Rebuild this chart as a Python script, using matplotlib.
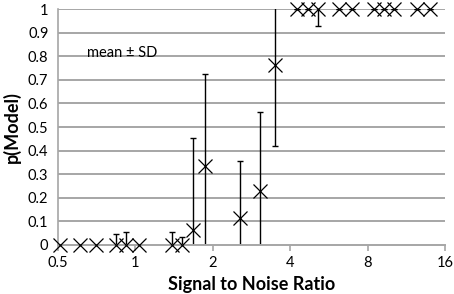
import numpy as np
import matplotlib.pyplot as plt
from matplotlib.ticker import FixedLocator, NullLocator

# signal to noise ratio, mean p(Model), error (SD)
snr = [0.51, 0.61, 0.70, 0.84, 0.92, 1.03, 1.39, 1.52, 1.67, 1.86,
       2.56, 3.06, 3.50, 4.27, 4.71, 5.13, 6.17, 6.96, 8.50, 9.30,
       10.17, 12.47, 13.94]
p_model = [0, 0, 0, 0, 0, 0, 0, 0, 0.065, 0.335,
           0.115, 0.23, 0.765, 1, 1, 1, 1, 1, 1, 1,
           1, 1, 1]
sd = [0, 0, 0, 0.047, 0.055, 0, 0.055, 0.035, 0.39, 0.39,
      0.24, 0.335, 0.345, 0, 0, 0.07, 0, 0, 0, 0,
      0, 0, 0]

xticks = [0.5, 1, 2, 4, 8, 16]
xticklabels = ['0.5', '1', '2', '4', '8', '16']
yticks = np.round(np.arange(0, 1.01, 0.1), 1)

plt.rcParams['font.family'] = ['Lato', 'DejaVu Sans']

fig = plt.figure(figsize=(4.54, 2.94), dpi=100)
ax = fig.add_axes([0.128, 0.167, 0.852, 0.802])

grid_col = '#a6a6a6'
for yv in yticks[1:]:
    ax.axhline(yv, color=grid_col, lw=1.4, zorder=1)

ax.errorbar(snr, p_model, yerr=sd, fmt='none', ecolor='black',
            elinewidth=1.0, capsize=2.5, capthick=1.0, zorder=2)
ax.plot(snr, p_model, linestyle='none', marker='x', markersize=10,
        markeredgewidth=0.9, color='black', zorder=3, clip_on=False)

ax.set_xscale('log', base=2)
ax.set_xlim(0.5, 16)
ax.set_ylim(0, 1)
ax.xaxis.set_major_locator(FixedLocator(xticks))
ax.xaxis.set_minor_locator(NullLocator())
ax.set_xticks(xticks)
ax.set_xticklabels(xticklabels)
ax.set_yticks(yticks)
ax.set_yticklabels(['0'] + [f'{v:g}' for v in yticks[1:]])

ax.tick_params(axis='x', length=4, color=grid_col, width=1.2, labelsize=10.5, pad=4)
ax.tick_params(axis='y', length=0, labelsize=10.5, pad=7)

for s in ['top', 'right']:
    ax.spines[s].set_visible(False)
ax.spines['left'].set_color(grid_col)
ax.spines['bottom'].set_color(grid_col)
ax.spines['left'].set_linewidth(1.2)
ax.spines['bottom'].set_linewidth(1.4)

ax.set_xlabel('Signal to Noise Ratio', fontsize=13, fontweight='bold', labelpad=4)
ax.set_ylabel('p(Model)', fontsize=13, fontweight='bold', labelpad=5)

ax.text(0.075, 0.815, 'mean ± SD', transform=ax.transAxes, fontsize=10.5,
        ha='left', va='center')

fig.savefig('out.png', dpi=100)
